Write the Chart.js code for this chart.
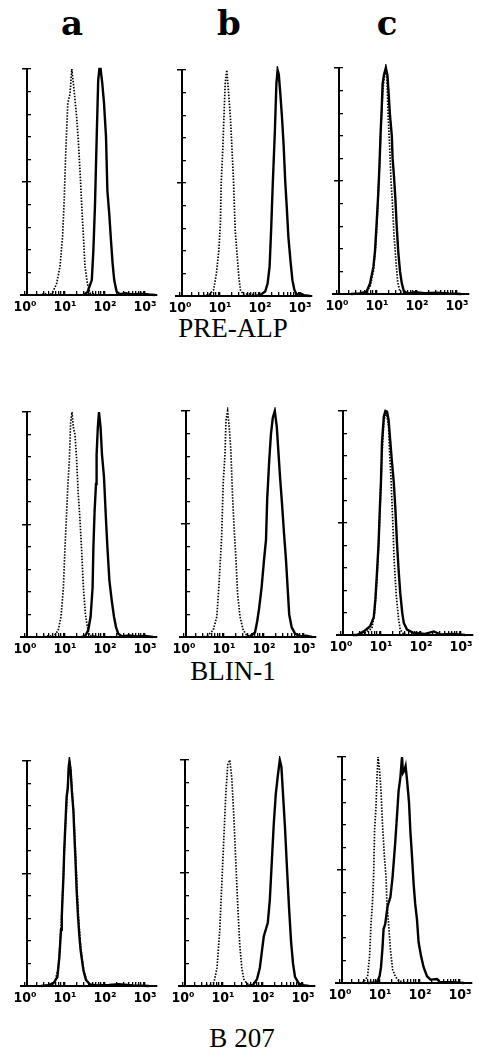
<!DOCTYPE html>
<html><head><meta charset="utf-8">
<script src="https://cdn.jsdelivr.net/npm/chart.js@4/dist/chart.umd.min.js"></script>
<style>
html,body{margin:0;padding:0;background:#fff;}
body{width:479px;height:1051px;position:relative;overflow:hidden;}
canvas{position:absolute;}
.hdr{position:absolute;font-family:"DejaVu Serif",serif;font-weight:bold;font-size:34px;line-height:1;transform:translateX(-50%);color:#000;}
.row{position:absolute;font-family:"Liberation Serif",serif;font-size:27px;line-height:1;transform:translateX(-50%);white-space:nowrap;color:#000;}
</style></head><body>
<div class="hdr" style="left:72px;top:6px">a</div>
<div class="hdr" style="left:229px;top:6px">b</div>
<div class="hdr" style="left:387px;top:6px">c</div>
<div class="row" style="left:233px;top:315px">PRE-ALP</div>
<div class="row" style="left:233px;top:658px">BLIN-1</div>
<div class="row" style="left:242px;top:1025px">B 207</div>
<canvas id="p11"></canvas><canvas id="p12"></canvas><canvas id="p13"></canvas>
<canvas id="p21"></canvas><canvas id="p22"></canvas><canvas id="p23"></canvas>
<canvas id="p31"></canvas><canvas id="p32"></canvas><canvas id="p33"></canvas>
<script>
// x values: log10 fluorescence intensity (decades); y values: relative cell number (% of peak)
const decades = [0, 1, 2, 3];
const tickLabels = ['10⁰', '10¹', '10²', '10³'];
const minorFactors = [2, 3, 4, 5, 6, 7, 8, 9];

// PRE-ALP
const preAlp_a_ctrlX = [0.35,0.5,0.58,0.68,0.79,0.875,0.94,0.98,1.02,1.07,1.125,1.17,1.225,1.29,1.33,1.375,1.42,1.46,1.5,1.56,1.625,1.7,1.8];
const preAlp_a_ctrlY = [0,0.6,0,0.8,5,12.6,26,42,64,85,89,100,91,79,69,55,39,26,12.6,5,0.8,0.5,0];
const preAlp_a_mabX = [1.45,1.56,1.67,1.71,1.75,1.79,1.83,1.86,1.89,1.93,1.975,2.025,2.06,2.11,2.15,2.19,2.23,2.29,2.375,2.5,2.7,2.9,3.1,3.25];
const preAlp_a_mabY = [0,1.2,6.6,20,40,68,95,100,100,94,85,70,46,35,24,14,6.6,1.5,0.4,0.8,0.3,0.6,0.2,0];
const preAlp_b_ctrlX = [0.5,0.72,0.84,0.91,0.97,1.01,1.03,1.07,1.09,1.13,1.17,1.21,1.26,1.30,1.34,1.38,1.42,1.47,1.51,1.59,1.7,1.85,2.0];
const preAlp_b_ctrlY = [0,0.5,2.7,10,20,32,50,65,75,94,100,91,79,65,50,29,20,8.5,2.7,0.5,1,0.6,0];
const preAlp_b_mabX = [1.9,2.01,2.13,2.19,2.24,2.28,2.32,2.37,2.41,2.44,2.47,2.51,2.55,2.59,2.63,2.67,2.71,2.76,2.81,2.86,2.92,3.0,3.1,3.25];
const preAlp_b_mabY = [0,0.5,2,5.5,13,30,50,72,94,100,98,89,79,67,51,39,26,16,7,2.7,0.5,1.2,0.4,0];
const preAlp_c_ctrlX = [0.45,0.66,0.825,0.91,0.97,1.01,1.05,1.09,1.14,1.175,1.22,1.25,1.28,1.32,1.35,1.38,1.425,1.475,1.52,1.575,1.66,1.8];
const preAlp_c_ctrlY = [0,0.3,3,10,22,35,52,70,88,95,100,95,78,64,50,42,26,14,5,1,0,0];
const preAlp_c_mabX = [0.35,0.575,0.74,0.825,0.91,0.95,0.99,1.03,1.06,1.09,1.12,1.14,1.175,1.22,1.26,1.29,1.325,1.37,1.39,1.425,1.46,1.49,1.53,1.575,1.62,1.675,1.78,1.95,2.2,2.5,2.8,3.1];
const preAlp_c_mabY = [0,0.3,1,4.7,12,19,31,44,56,71,83,93,97,100,97,89,79,70,60,52,42,31,19,10,4.7,1,0.3,0.8,0.4,0.6,0.2,0];

// BLIN-1
const blin_a_ctrlX = [0.4,0.6,0.71,0.83,0.90,0.96,1.0,1.04,1.07,1.11,1.14,1.175,1.21,1.25,1.29,1.33,1.375,1.42,1.46,1.51,1.56,1.61,1.7,1.85];
const blin_a_ctrlY = [0,0.6,0,3,9,22,40,55,67,79,95,100,93,90,79,64,52,37,22,10,4.4,0.7,0.5,0];
const blin_a_mabX = [1.4,1.5,1.58,1.64,1.69,1.71,1.74,1.775,1.79,1.82,1.85,1.89,1.925,1.975,2.025,2.06,2.11,2.17,2.225,2.275,2.33,2.42,2.6,2.8,3.0,3.2];
const blin_a_mabY = [0,0.3,3,9,22,40,56,68,81,93,100,93,81,71,52,40,25,16,9,4.4,1.5,0.3,0.7,0.3,0.5,0];
const blin_b_ctrlX = [0.35,0.48,0.6,0.73,0.82,0.86,0.9,0.94,0.98,1.025,1.05,1.09,1.13,1.17,1.21,1.25,1.3,1.34,1.4,1.48,1.57,1.7];
const blin_b_ctrlY = [0,0,0.8,3,9,19,31,44,68,81,96,100,93,83,64,49,34,19,9,3,0.7,0];
const blin_b_mabX = [1.55,1.65,1.775,1.83,1.88,1.94,2.0,2.05,2.08,2.13,2.175,2.22,2.27,2.32,2.36,2.4,2.45,2.5,2.55,2.59,2.63,2.69,2.775,2.9,3.05,3.2];
const blin_b_mabY = [0,0.3,2,7,13,22,34,43,61,78,90,97,100,93,82,71,59,46,34,22,10,4.4,1.5,0.3,0.6,0];
const blin_c_ctrlX = [0.45,0.57,0.775,0.84,0.9,0.94,0.98,1.025,1.07,1.125,1.165,1.19,1.215,1.25,1.3,1.33,1.38,1.44,1.48,1.57,1.7];
const blin_c_ctrlY = [0,0.5,3,10,25,40,58,80,95,100,96,93,81,70,48,33,18,7,2.4,0.3,0];
const blin_c_mabX = [0.3,0.4,0.57,0.73,0.82,0.86,0.9,0.94,0.97,1.0,1.025,1.07,1.11,1.15,1.19,1.23,1.27,1.32,1.36,1.4,1.44,1.48,1.53,1.57,1.65,1.82,2.1,2.32,2.48,2.8,3.1];
const blin_c_mabY = [0,0,1.6,3.9,8,16,28,41,56,69,86,97.5,100,99.7,96,87,78,68,56,41,29,19,10,5.4,2.4,0.9,0.5,1.6,0.3,0.5,0];

// B 207
const b207_a_ctrlX = [0.45,0.6,0.75,0.83,0.88,0.92,0.95,0.98,1.01,1.04,1.07,1.1,1.12,1.15,1.18,1.22,1.25,1.28,1.31,1.34,1.38,1.42,1.48,1.55,1.65,1.8];
const b207_a_ctrlY = [0,0.5,2,8,20,32,45,58,70,80,90,96,100,95,86,76,64,52,40,30,20,13,6,2,0.5,0];
const b207_a_mabX = [0.4,0.58,0.71,0.81,0.86,0.9,0.92,0.94,0.96,0.98,1.01,1.04,1.07,1.09,1.11,1.14,1.17,1.21,1.23,1.26,1.29,1.325,1.36,1.39,1.46,1.525,1.625,1.8,2.1,2.35,2.7,3.1];
const b207_a_mabY = [0,0.4,1.2,4,13,25,31,40,48,60,72,84,88,97,100,96,87,78,69,57,43,31,22,16,7,2.7,0.7,0.3,0.5,0.8,0.3,0];
const b207_b_ctrlX = [0.5,0.6,0.72,0.78,0.85,0.92,0.97,1.02,1.07,1.12,1.17,1.22,1.27,1.32,1.37,1.42,1.47,1.52,1.6,1.7,1.8];
const b207_b_ctrlY = [0,0.5,0,2,8,25,45,65,85,98,100,92,75,55,35,18,8,3,1,0.5,0];
const b207_b_mabX = [1.6,1.75,1.85,1.92,1.97,2.02,2.07,2.12,2.17,2.22,2.27,2.32,2.37,2.42,2.46,2.5,2.55,2.6,2.65,2.7,2.75,2.8,2.9,3.0,3.15];
const b207_b_mabY = [0,0.5,3,8,15,22,25,28,38,55,72,85,93,100,97,85,70,52,35,20,10,4,1,0.4,0];
const b207_c_ctrlX = [0.4,0.59,0.69,0.74,0.775,0.81,0.84,0.865,0.9,0.925,0.95,0.99,1.025,1.06,1.11,1.15,1.175,1.215,1.26,1.315,1.38,1.465,1.6,1.75];
const b207_c_ctrlY = [0,0.3,3,12,26,35,47,68,78,91,100,94,85,71,56,47,35,26,15,6,3,1,0.4,0];
const b207_c_mabX = [0.7,0.925,0.99,1.025,1.06,1.09,1.13,1.19,1.26,1.315,1.38,1.425,1.465,1.51,1.55,1.575,1.61,1.64,1.675,1.7,1.725,1.76,1.8,1.84,1.88,1.925,1.965,2.025,2.09,2.175,2.26,2.425,2.5,2.8,3.1];
const b207_c_mabY = [0,0.3,3,7,15,24,26,34,38,47,62,74,85,91,100,93,94,96,90,85,80,67,56,44,35,28,18,12,7,3,1.5,1.8,0.3,0.4,0];

const X_MIN = -0.1, X_MAX = 3.3, Y_AXIS_AT = 0.05;
const PAD_L = 8, PAD_R = 8, PAD_T = 4, X_AXIS_H = 24, AREA_W = 136;

function pts(xs, ys) { return xs.map((x, i) => ({x: x, y: ys[i]})); }

function makePanel(id, g, ctrlX, ctrlY, mabX, mabY) {
  const cv = document.getElementById(id);
  const h = g.bottom - g.top;
  cv.width = PAD_L + AREA_W + PAD_R;
  cv.height = PAD_T + h + X_AXIS_H;
  cv.style.left = (g.ax - 6 - PAD_L) + 'px';
  cv.style.top = (g.top - PAD_T) + 'px';
  new Chart(cv, {
    type: 'line',
    data: {
      datasets: [
        {data: pts(mabX, mabY), borderColor: '#000', borderWidth: 2.4, pointRadius: 0, tension: 0, fill: false, clip: 4},
        {data: pts(ctrlX, ctrlY), borderColor: '#000', borderWidth: 1.7, borderDash: [1.5, 1.5], pointRadius: 0, tension: 0, fill: false, clip: 4}
      ]
    },
    options: {
      responsive: false, animation: false, devicePixelRatio: 1,
      layout: {padding: {left: PAD_L, right: PAD_R, top: PAD_T, bottom: 0}},
      plugins: {legend: {display: false}, tooltip: {enabled: false}},
      events: [],
      scales: {
        x: {
          type: 'linear', position: 'bottom', min: X_MIN, max: X_MAX,
          afterBuildTicks: (s) => {
            const t = [];
            decades.forEach(d => {
              t.push({value: d});
              minorFactors.forEach(k => { const v = d + Math.log10(k); if (v <= X_MAX) t.push({value: v}); });
            });
            t.sort((a, b) => a.value - b.value);
            s.ticks = t;
          },
          afterFit: (s) => { s.height = X_AXIS_H; s.paddingLeft = 0; s.paddingRight = 0; },
          ticks: {
            autoSkip: false, maxRotation: 0, minRotation: 0, padding: 8, color: '#000',
            font: {family: '"DejaVu Sans Condensed", "DejaVu Sans", sans-serif', weight: 'bold', size: 14},
            callback: (v) => { const i = decades.indexOf(v); return i >= 0 ? tickLabels[i] : ''; }
          },
          grid: {display: true, drawOnChartArea: false, drawTicks: true, tickLength: -4, color: '#000', lineWidth: 1.3},
          border: {display: true, color: '#000', width: 2}
        },
        y: {
          type: 'linear', axis: 'y', position: {x: Y_AXIS_AT}, min: 0, max: 100,
          ticks: {display: false, stepSize: 10},
          grid: {display: true, drawOnChartArea: false, drawTicks: true, tickLength: -5, color: '#000', lineWidth: 1.3},
          border: {display: true, color: '#000', width: 2}
        },
        y2: {
          type: 'linear', axis: 'y', position: {x: Y_AXIS_AT}, min: 0, max: 100,
          afterBuildTicks: (s) => { s.ticks = [{value: 50}, {value: 100}]; },
          ticks: {display: false},
          grid: {display: true, drawOnChartArea: false, drawTicks: true, tickLength: 5, color: '#000', lineWidth: 1.5},
          border: {display: false}
        }
      }
    }
  });
}

makePanel('p11', {ax: 27, top: 69, bottom: 295}, preAlp_a_ctrlX, preAlp_a_ctrlY, preAlp_a_mabX, preAlp_a_mabY);
makePanel('p12', {ax: 182, top: 70, bottom: 296}, preAlp_b_ctrlX, preAlp_b_ctrlY, preAlp_b_mabX, preAlp_b_mabY);
makePanel('p13', {ax: 339, top: 68, bottom: 294}, preAlp_c_ctrlX, preAlp_c_ctrlY, preAlp_c_mabX, preAlp_c_mabY);
makePanel('p21', {ax: 27, top: 412, bottom: 637}, blin_a_ctrlX, blin_a_ctrlY, blin_a_mabX, blin_a_mabY);
makePanel('p22', {ax: 186, top: 411, bottom: 637}, blin_b_ctrlX, blin_b_ctrlY, blin_b_mabX, blin_b_mabY);
makePanel('p23', {ax: 343, top: 411, bottom: 635}, blin_c_ctrlX, blin_c_ctrlY, blin_c_mabX, blin_c_mabY);
makePanel('p31', {ax: 27, top: 761, bottom: 986}, b207_a_ctrlX, b207_a_ctrlY, b207_a_mabX, b207_a_mabY);
makePanel('p32', {ax: 185, top: 760, bottom: 986}, b207_b_ctrlX, b207_b_ctrlY, b207_b_mabX, b207_b_mabY);
makePanel('p33', {ax: 342, top: 757, bottom: 983}, b207_c_ctrlX, b207_c_ctrlY, b207_c_mabX, b207_c_mabY);
</script>
</body></html>
